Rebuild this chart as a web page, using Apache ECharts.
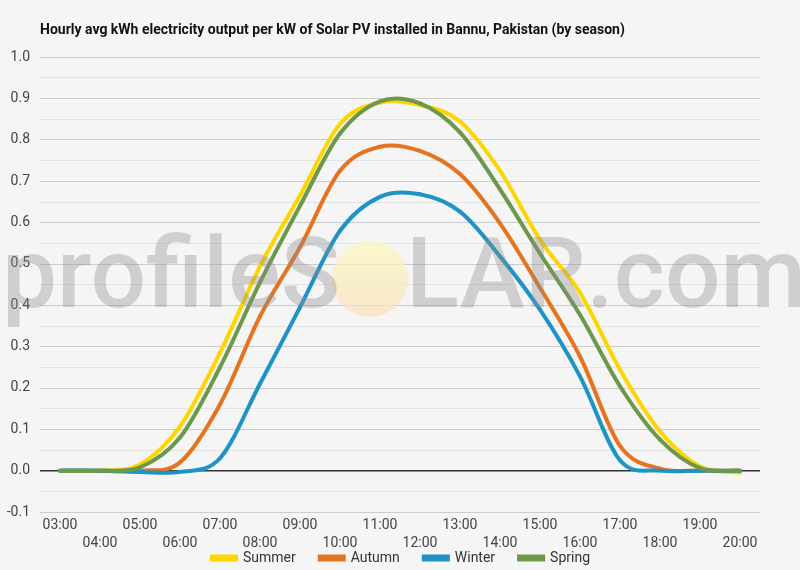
<!DOCTYPE html>
<html>
<head>
<meta charset="utf-8">
<script src="https://cdn.jsdelivr.net/npm/echarts@6/dist/echarts.min.js"></script>
<style>
html,body{margin:0;padding:0;background:#f5f5f5;}
#chart{width:800px;height:570px;}
</style>
</head>
<body>
<div id="chart"></div>
<script>
const hours = ['03:00','04:00','05:00','06:00','07:00','08:00','09:00','10:00','11:00','12:00','13:00','14:00','15:00','16:00','17:00','18:00','19:00','20:00'];
const summer = [0, 0, 0.015, 0.107, 0.285, 0.494, 0.665, 0.838, 0.89, 0.884, 0.844, 0.725, 0.558, 0.43, 0.244, 0.095, 0.01, -0.005];
const autumn = [0, 0, 0, 0.02, 0.16, 0.373, 0.54, 0.725, 0.783, 0.773, 0.717, 0.598, 0.442, 0.276, 0.06, 0.005, 0, 0];
const winter = [0, 0, -0.003, -0.003, 0.03, 0.21, 0.395, 0.58, 0.662, 0.668, 0.626, 0.518, 0.389, 0.228, 0.025, 0, 0, 0];
const spring = [0, 0, 0.008, 0.08, 0.25, 0.455, 0.64, 0.815, 0.893, 0.888, 0.818, 0.68, 0.525, 0.377, 0.204, 0.075, 0.006, 0];
const seriesNames = ['Summer','Autumn','Winter','Spring'];
const seriesColors = ['#fdd600','#e6731f','#1e94c6','#6c984a'];
const seriesData = [summer, autumn, winter, spring];

const chart = echarts.init(document.getElementById('chart'));
const font = 'Roboto';

function makeRender(values, color) {
  return function (params, api) {
    const n = values.length;
    const i = params.dataIndex;
    if (i >= n - 1) return null;
    const P = function (j) {
      const jj = Math.max(0, Math.min(n - 1, j));
      return api.coord([jj, values[jj]]);
    };
    const p0 = P(i - 1), p1 = P(i), p2 = P(i + 1), p3 = P(i + 2);
    const t = 1 / 6;
    return {
      type: 'bezierCurve',
      shape: {
        x1: p1[0], y1: p1[1], x2: p2[0], y2: p2[1],
        cpx1: p1[0] + (p2[0] - p0[0]) * t, cpy1: p1[1] + (p2[1] - p0[1]) * t,
        cpx2: p2[0] - (p3[0] - p1[0]) * t, cpy2: p2[1] - (p3[1] - p1[1]) * t
      },
      style: { stroke: color, lineWidth: 4, fill: null, lineCap: 'round' }
    };
  };
}

const series = seriesNames.map(function (name, k) {
  return {
    name: name,
    type: 'custom',
    data: seriesData[k].map(function (v, i) { return [i, v]; }),
    encode: { x: 0, y: 1 },
    renderItem: makeRender(seriesData[k], seriesColors[k]),
    itemStyle: { color: seriesColors[k] },
    silent: true,
    z: 3
  };
});
// zero baseline drawn through the value scale
series.unshift({
  name: 'zero',
  type: 'custom',
  data: [[0, 0]],
  encode: { x: 0, y: 1 },
  silent: true,
  z: 2,
  renderItem: function (params, api) {
    const cs = params.coordSys;
    const y = api.coord([0, 0])[1];
    return {
      type: 'line',
      shape: { x1: cs.x, y1: y, x2: cs.x + cs.width, y2: y },
      style: { stroke: '#333', lineWidth: 1.5 }
    };
  }
});

const option = {
  backgroundColor: '#f5f5f5',
  textStyle: { fontFamily: font },
  title: {
    text: 'Hourly avg kWh electricity output per kW of Solar PV installed in Bannu, Pakistan (by season)',
    left: 35, top: 18,
    textStyle: { fontFamily: font, fontSize: 14, fontWeight: 'bold', color: '#111' }
  },
  legend: {
    bottom: 5, left: 'center', padding: 0,
    icon: 'rect', itemWidth: 28, itemHeight: 7, itemGap: 22,
    textStyle: { fontFamily: font, fontSize: 14, color: '#333' },
    data: seriesNames
  },
  grid: { left: 40, right: 40, top: 57, bottom: 58, containLabel: false },
  xAxis: {
    type: 'category',
    data: hours,
    boundaryGap: true,
    axisLine: { show: false },
    axisTick: { show: false },
    axisLabel: {
      interval: 0, margin: 4, fontSize: 14, color: '#444', lineHeight: 18, fontFamily: font,
      formatter: function (v, i) { return i % 2 === 1 ? '\n' + v : v; }
    }
  },
  yAxis: {
    type: 'value',
    min: -0.1, max: 1.0, interval: 0.1,
    axisLine: { show: false },
    axisTick: { show: false },
    axisLabel: { margin: 10, fontSize: 14, color: '#444', fontFamily: font,
      formatter: function (v) { return v.toFixed(1); } },
    splitLine: { lineStyle: { color: '#cccccc', width: 1 } },
    minorTick: { show: false, splitNumber: 2 },
    minorSplitLine: { show: true, lineStyle: { color: '#e3e3e3', width: 1 } }
  },
  series: series,
  graphic: [
    {
      type: 'circle', z: 100, silent: true,
      shape: { cx: 370, cy: 279, r: 38 },
      style: {
        fill: new echarts.graphic.LinearGradient(0, 0, 0, 1, [
          { offset: 0, color: 'rgba(250,248,190,0.75)' },
          { offset: 1, color: 'rgba(250,225,190,0.75)' }
        ])
      }
    },
    {
      type: 'text', z: 100, silent: true, x: 2, y: 282,
      style: { text: 'profileS', font: '500 98px Roboto', fill: 'rgba(140,140,140,0.36)', verticalAlign: 'middle', align: 'left' }
    },
    {
      type: 'text', z: 100, silent: true, x: 406, y: 282,
      style: { text: 'LAR.com', font: '500 98px Roboto', fill: 'rgba(140,140,140,0.36)', verticalAlign: 'middle', align: 'left' }
    }
  ]
};
chart.setOption(option);
</script>
</body>
</html>
